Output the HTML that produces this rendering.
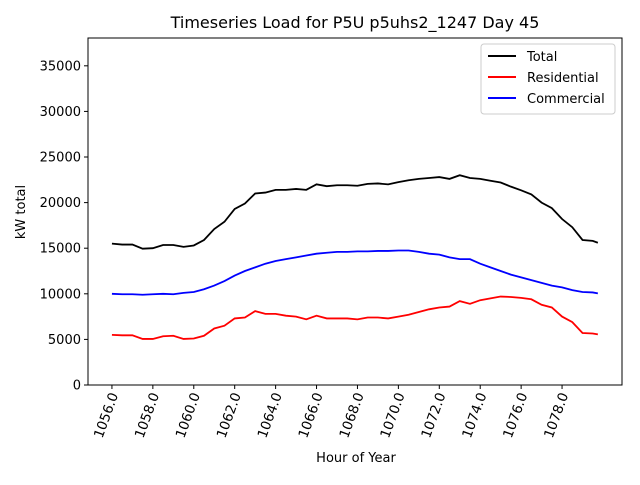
<!DOCTYPE html>
<html><head><meta charset="utf-8"><style>
body{margin:0;background:#fff;font-family:"Liberation Sans",sans-serif;}
svg text{font-family:"DejaVu Sans","Liberation Sans",sans-serif;}
</style></head><body>
<svg id="c" width="640" height="480" xmlns="http://www.w3.org/2000/svg">
<rect width="640" height="480" fill="#fff"/>
<text x="355" y="28" font-size="16" text-anchor="middle">Timeseries Load for P5U p5uhs2_1247  Day 45</text>
<g id="plot"></g>
<text x="356" y="462" font-size="13" text-anchor="middle">Hour of Year</text>
<text transform="translate(25,212) rotate(-90)" font-size="13" text-anchor="middle">kW total</text>
<g>
<rect x="481" y="44" width="134" height="70" fill="#fff" stroke="#ccc" rx="3"/>
<line x1="488" y1="56" x2="516" y2="56" stroke="#000" stroke-width="2"/>
<text x="527" y="61" font-size="13">Total</text>
<line x1="488" y1="77" x2="516" y2="77" stroke="#f00" stroke-width="2"/>
<text x="527" y="82" font-size="13">Residential</text>
<line x1="488" y1="98" x2="516" y2="98" stroke="#00f" stroke-width="2"/>
<text x="527" y="103" font-size="13">Commercial</text>
</g>
</svg>
<script>
const hours=[1056,1056.5,1057,1057.5,1058,1058.5,1059,1059.5,1060,1060.5,1061,1061.5,1062,1062.5,1063,1063.5,1064,1064.5,1065,1065.5,1066,1066.5,1067,1067.5,1068,1068.5,1069,1069.5,1070,1070.5,1071,1071.5,1072,1072.5,1073,1073.5,1074,1074.5,1075,1075.5,1076,1076.5,1077,1077.5,1078,1078.5,1079,1079.5,1079.75];
const residential=[5500,5450,5450,5050,5050,5350,5400,5050,5100,5400,6200,6500,7300,7400,8100,7800,7800,7600,7500,7200,7600,7300,7300,7300,7200,7400,7400,7300,7500,7700,8000,8300,8500,8600,9200,8900,9300,9500,9700,9650,9550,9400,8800,8500,7500,6900,5700,5650,5550];
const commercial=[10000,9950,9950,9900,9950,10000,9950,10100,10200,10500,10900,11400,12000,12500,12900,13300,13600,13800,14000,14200,14400,14500,14600,14600,14650,14650,14700,14700,14750,14750,14600,14400,14300,14000,13800,13800,13300,12900,12500,12100,11800,11500,11200,10900,10700,10400,10200,10150,10050];
const total=residential.map((r,i)=>r+commercial[i]);
const xTicks=[1056,1058,1060,1062,1064,1066,1068,1070,1072,1074,1076,1078];
const yTicks=[0,5000,10000,15000,20000,25000,30000,35000];
const X0=88,X1=622,Y0=38,Y1=385,xmin=1054.83,xmax=1080.93,ymax=38050;
const sx=v=>X0+(v-xmin)/(xmax-xmin)*(X1-X0);
const sy=v=>Y1-v/ymax*(Y1-Y0);
const NS="http://www.w3.org/2000/svg",g=document.getElementById('plot');
function mk(t,a){const e=document.createElementNS(NS,t);for(const k in a)e.setAttribute(k,a[k]);g.appendChild(e);return e;}
xTicks.forEach(t=>{
 const l=mk('line',{x1:sx(t),x2:sx(t),y1:Y1,y2:Y1+4,stroke:'#000'});
 
 
 const x=sx(t)+2,y=Y1+8;
 const tx=mk('text',{x:x,y:y,'font-size':13.5,'text-anchor':'end',transform:`rotate(-70 ${x} ${y})`,dy:'0.35em'});
 tx.textContent=t.toFixed(1);
 
 
});
yTicks.forEach(t=>{
 const l=mk('line',{x1:X0-4,x2:X0,y1:sy(t),y2:sy(t),stroke:'#000'});
 
 
 const tx=mk('text',{x:X0-7,y:sy(t)+4.5,'font-size':13,'text-anchor':'end'});
 tx.textContent=t;
 
 
});
[[total,'#000','total-line'],[residential,'#f00','residential-line'],[commercial,'#00f','commercial-line']].forEach(([d,c,n])=>{
 const p=mk('polyline',{points:d.map((v,i)=>sx(hours[i])+','+sy(v)).join(' '),fill:'none',stroke:c,'stroke-width':1.8});
 
 
});
const f=mk('rect',{x:X0,y:Y0,width:X1-X0,height:Y1-Y0,fill:'none',stroke:'#000'});


</script>
</body></html>
